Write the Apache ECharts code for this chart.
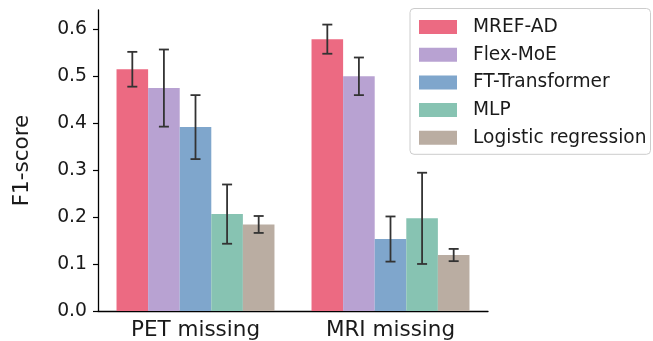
<!DOCTYPE html>
<html><head><meta charset="utf-8">
<script src="https://cdn.jsdelivr.net/npm/echarts@6/dist/echarts.min.js"></script>
<style>html,body{margin:0;padding:0;background:#fff}#c{width:653px;height:341px}</style>
</head><body><div id="c"></div>
<script>
const categories = ['PET missing', 'MRI missing'];
const seriesNames = ['MREF-AD', 'Flex-MoE', 'FT-Transformer', 'MLP', 'Logistic regression'];
const mrefAD = [0.514, 0.578];
const flexMoE = [0.474, 0.499];
const ftTransformer = [0.391, 0.153];
const mlp = [0.206, 0.197];
const logReg = [0.184, 0.119];
const mrefADErr = [0.037, 0.031];
const flexMoEErr = [0.082, 0.040];
const ftTransformerErr = [0.068, 0.048];
const mlpErr = [0.063, 0.097];
const logRegErr = [0.018, 0.013];
const yTicks = [0, 0.1, 0.2, 0.3, 0.4, 0.5, 0.6];
const colors = ['#EC6A82', '#B8A2D2', '#7FA6CC', '#87C3B2', '#BAADA2'];

const values = [mrefAD, flexMoE, ftTransformer, mlp, logReg];
const errs = [mrefADErr, flexMoEErr, ftTransformerErr, mlpErr, logRegErr];
const BW = 0.162;
const font = 'DejaVu Sans';

const series = [];
values.forEach((v, i) => {
  series.push({
    name: seriesNames[i], type: 'bar', data: v, barWidth: (BW * 100) + '%', barGap: '0%',
    itemStyle: { color: colors[i] }, z: 2
  });
});
values.forEach((v, i) => {
  series.push({
    type: 'custom', z: 5, silent: true,
    data: v.map((m, j) => [j, m - errs[i][j], m + errs[i][j]]),
    renderItem: function (params, api) {
      const cat = api.value(0);
      const lo = api.coord([cat, api.value(1)]);
      const hi = api.coord([cat, api.value(2)]);
      const band = api.size([1, 0])[0];
      const x = lo[0] + (i - 2) * band * BW;
      const cw = 5;
      const st = { stroke: '#333333', lineWidth: 1.8 };
      return { type: 'group', children: [
        { type: 'line', shape: { x1: x, y1: lo[1], x2: x, y2: hi[1] }, style: st },
        { type: 'line', shape: { x1: x - cw, y1: lo[1], x2: x + cw, y2: lo[1] }, style: st },
        { type: 'line', shape: { x1: x - cw, y1: hi[1], x2: x + cw, y2: hi[1] }, style: st }
      ]};
    }
  });
});

const chart = echarts.init(document.getElementById('c'), null, { renderer: 'canvas' });
chart.setOption({
  animation: false,
  textStyle: { fontFamily: font },
  grid: { left: 98, right: 165, top: 10, bottom: 29.5, containLabel: false },
  legend: {
    data: seriesNames, orient: 'vertical', left: 410, top: 8.5,
    padding: [9, 4, 7, 9], itemWidth: 38, itemHeight: 14, itemGap: 8.7,
    borderColor: '#cccccc', borderWidth: 1, borderRadius: 4, backgroundColor: '#fff',
    icon: 'rect',
    textStyle: { fontFamily: font, fontSize: 18.6, color: '#1a1a1a', lineHeight: 18, padding: [0, 0, 0, 11] }
  },
  xAxis: {
    type: 'category', data: categories,
    axisLine: { lineStyle: { color: '#000', width: 1.3 } },
    axisTick: { alignWithLabel: true, length: 5, lineStyle: { color: '#000', width: 1.2 } },
    axisLabel: { fontFamily: font, fontSize: 21.5, color: '#1a1a1a', margin: 8 }
  },
  yAxis: {
    type: 'value', min: 0, max: 0.64, interval: 0.1,
    name: 'F1-score', nameLocation: 'middle', nameGap: 65, nameRotate: 90,
    nameTextStyle: { fontFamily: font, fontSize: 21.5, color: '#1a1a1a' },
    splitLine: { show: false },
    axisLine: { show: true, lineStyle: { color: '#000', width: 1.3 } },
    axisTick: { show: true, length: 5, customValues: yTicks, lineStyle: { color: '#000', width: 1.2 } },
    axisLabel: { fontFamily: font, fontSize: 18.8, color: '#1a1a1a', margin: 11, customValues: yTicks,
      formatter: v => v.toFixed(1) }
  },
  series: series
});
</script></body></html>
